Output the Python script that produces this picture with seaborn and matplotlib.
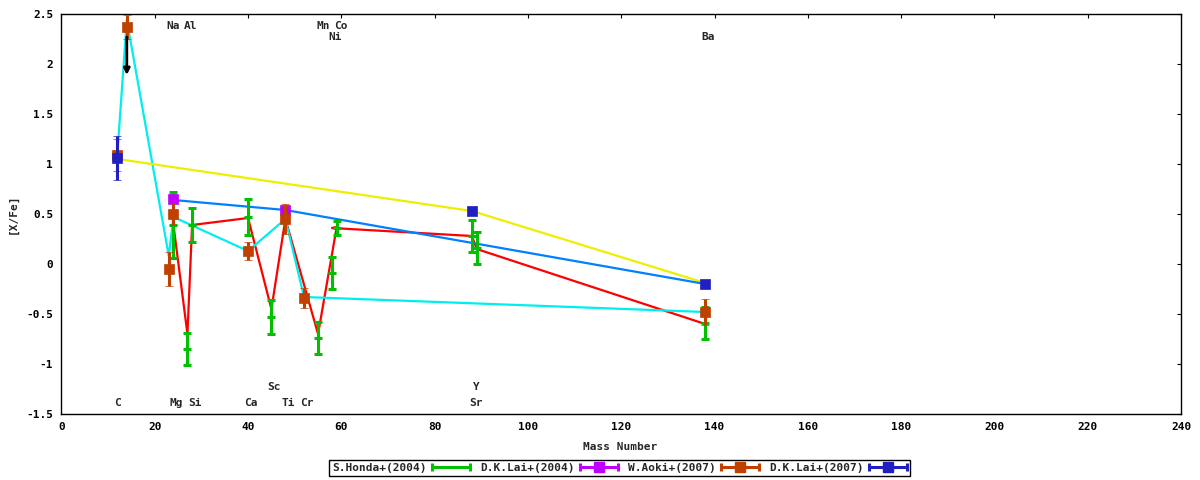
import numpy as np
import pandas as pd
import matplotlib
matplotlib.use("Agg")
import matplotlib.pyplot as plt
import seaborn as sns
from matplotlib.lines import Line2D
from matplotlib.legend_handler import HandlerLine2D, HandlerTuple
from matplotlib.ticker import FuncFormatter, MultipleLocator

# ---------------- data ----------------
# model curves (no legend entries)
red_mass = [24, 27, 28, 40, 45, 48, 55, 59, 58, 88, 89, 138]
red_xfe = [0.39, -0.70, 0.39, 0.46, -0.45, 0.45, -0.70, 0.37, 0.36, 0.28, 0.15, -0.60]
cyan_mass = [12, 14, 23, 24, 40, 48, 52, 138]
cyan_xfe = [1.12, 2.44, 0.08, 0.47, 0.13, 0.45, -0.33, -0.48]
yellow_mass = [12, 88, 138]
yellow_xfe = [1.05, 0.53, -0.19]
azure_mass = [24, 48, 138]
azure_xfe = [0.64, 0.54, -0.20]

# observations
honda_mass = [24, 27, 28, 40, 45, 55, 58, 59, 88, 89, 138]
honda_xfe = [0.39, -0.85, 0.39, 0.47, -0.53, -0.74, -0.09, 0.36, 0.28, 0.16, -0.59]
honda_err = [0.33, 0.16, 0.17, 0.18, 0.17, 0.16, 0.16, 0.07, 0.16, 0.16, 0.16]
lai04_mass = [24, 48]
lai04_xfe = [0.65, 0.54]
lai04_err = [0.03, 0.03]
aoki_mass = [12, 14, 23, 24, 40, 48, 52, 138]
aoki_xfe = [1.09, 2.37, -0.05, 0.50, 0.13, 0.45, -0.34, -0.48]
aoki_err = [0.16, 0.12, 0.17, 0.11, 0.09, 0.15, 0.10, 0.13]
lai07_mass = [12, 88, 138]
lai07_xfe = [1.06, 0.53, -0.20]
lai07_err = [0.22, 0.03, 0.03]

# upper limit arrow (N)
limit_mass = [14]
limit_from = [2.27]
limit_to = [1.89]

# element labels
elem_names = ['Na', 'Al', 'Mn', 'Co', 'Ni', 'Ba', 'C', 'Mg', 'Si', 'Ca', 'Ti', 'Cr', 'Sr', 'Sc', 'Y']
elem_x = [23.9, 27.6, 56.1, 59.9, 58.7, 138.6, 12.1, 24.6, 28.6, 40.7, 48.7, 52.6, 88.8, 45.6, 88.9]
elem_y = [2.38, 2.38, 2.38, 2.38, 2.265, 2.265, -1.385, -1.385, -1.385, -1.385, -1.385, -1.385,
          -1.385, -1.227, -1.227]

legend_labels = ['S.Honda+(2004)', 'D.K.Lai+(2004)', 'W.Aoki+(2007)', 'D.K.Lai+(2007)']

# ---------------- style ----------------
sns.set_style("white")
FONT = ['DejaVu Sans Mono', 'DejaVu Sans']
plt.rcParams['font.family'] = FONT
plt.rcParams['font.weight'] = 'bold'
plt.rcParams['axes.unicode_minus'] = False

fig = plt.figure(figsize=(12, 4.8), dpi=100)
ax = fig.add_axes([61.5 / 1200, 1 - 414 / 480, (1181 - 61.5) / 1200, 400 / 480])

LW = 1.6
models = [
    (red_mass, red_xfe, '#ff0000'),
    (cyan_mass, cyan_xfe, '#00eeee'),
    (yellow_mass, yellow_xfe, '#eeee00'),
    (azure_mass, azure_xfe, '#0080ff'),
]
for mx, my, c in models:
    df = pd.DataFrame({'mass': mx, 'xfe': my})
    sns.lineplot(data=df, x='mass', y='xfe', sort=False, estimator=None,
                 color=c, lw=LW, ax=ax, zorder=2)

series = [
    (honda_mass, honda_xfe, honda_err, '#00c000', '_', 6.0),
    (lai04_mass, lai04_xfe, lai04_err, '#c000ff', 's', 7.0),
    (aoki_mass, aoki_xfe, aoki_err, '#c04000', 's', 7.0),
    (lai07_mass, lai07_xfe, lai07_err, '#2020c0', 's', 7.0),
]
handles = []
hmap = {}
for i, (mx, my, me, c, mk, ms) in enumerate(series):
    ax.errorbar(mx, my, yerr=me, fmt=mk, color=c, ms=ms, mew=2.2 if mk == '_' else 0.5,
                elinewidth=2.2, capsize=3, capthick=2.2, zorder=3 + i)
    cap = Line2D([], [], color=c, lw=2.2, marker='|', ms=6, mew=2.2)
    mid = Line2D([], [], color=c, ls='none', marker=mk, ms=ms if mk == 's' else 0)
    hmap[cap] = HandlerLine2D(numpoints=2, marker_pad=0)
    hmap[mid] = HandlerLine2D(numpoints=1)
    handles.append((cap, mid))

for x0, y0, y1 in zip(limit_mass, limit_from, limit_to):
    ax.annotate('', xy=(x0, y1), xytext=(x0, y0),
                arrowprops=dict(arrowstyle='-|>', color='black', lw=2, mutation_scale=9,
                                shrinkA=0, shrinkB=0), zorder=10)

for n, x, y in zip(elem_names, elem_x, elem_y):
    ax.text(x, y, n, ha='center', va='center', fontsize=8, fontweight='bold', family=FONT)

ax.set_xlim(0, 240)
ax.set_ylim(-1.5, 2.5)
ax.xaxis.set_major_locator(MultipleLocator(20))
ax.yaxis.set_major_locator(MultipleLocator(0.5))
ax.yaxis.set_major_formatter(FuncFormatter(lambda v, p: f"{v:g}"))
ax.xaxis.set_major_formatter(FuncFormatter(lambda v, p: f"{v:g}"))
ax.tick_params(direction='in', top=True, right=True, length=3, width=0.8,
               labelsize=8, colors='black', pad=6)
for lab in ax.get_xticklabels() + ax.get_yticklabels():
    lab.set_fontweight('bold')
for s in ax.spines.values():
    s.set_color('black')
    s.set_linewidth(1.0)

ax.set_xlabel('Mass Number', fontsize=8, fontweight='bold')
ax.set_ylabel('[X/Fe]', fontsize=8, fontweight='bold')
ax.xaxis.set_label_coords(0.499, -0.07)
ax.yaxis.set_label_coords(-0.039, 0.5)

leg = fig.legend(handles, legend_labels,
                 handler_map={tuple: HandlerTuple(ndivide=1, pad=0), **hmap},
                 loc='center', bbox_to_anchor=(619.5 / 1200, 1 - 468 / 480), ncol=4,
                 markerfirst=False, fontsize=8, frameon=True, fancybox=False,
                 edgecolor='black', framealpha=1, borderpad=0.25, handlelength=3.4,
                 handletextpad=0.5, columnspacing=0.9, borderaxespad=0)
leg.get_frame().set_linewidth(1.0)
for t in leg.get_texts():
    t.set_fontweight('bold')

fig.savefig('out.png', dpi=100, facecolor='white')
